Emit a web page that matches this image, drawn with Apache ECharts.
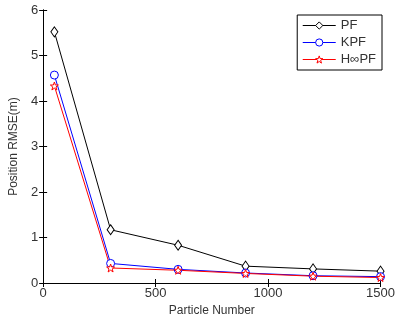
<!DOCTYPE html>
<html>
<head>
<meta charset="utf-8">
<script src="https://cdn.jsdelivr.net/npm/echarts@6/dist/echarts.min.js"></script>
<style>html,body{margin:0;padding:0;background:#fff;}#c{width:398px;height:322px;}</style>
</head>
<body>
<div id="c"></div>
<script>
const particles = [50, 300, 600, 900, 1200, 1500];
const pf = [5.52, 1.17, 0.83, 0.37, 0.31, 0.26];
const kpf = [4.57, 0.43, 0.30, 0.22, 0.16, 0.14];
const hpf = [4.33, 0.33, 0.28, 0.21, 0.15, 0.12];
const seriesNames = ['PF', 'KPF', 'H\u221EPF'];

const starPath = 'path://M0,-10 L2.35,-3.24 9.51,-3.09 3.8,1.24 5.88,8.09 0,4 -5.88,8.09 -3.8,1.24 -9.51,-3.09 -2.35,-3.24Z';
const font = 'Liberation Sans, Arial, sans-serif';
const chart = echarts.init(document.getElementById('c'));
function mk(vals){ return particles.map((x,i)=>[x, vals[i]]); }
const axisCommon = {
  axisLine:{show:true, lineStyle:{color:'#000', width:1}},
  axisTick:{show:true, inside:true, length:4, lineStyle:{color:'#000'}},
  splitLine:{show:false}
};
chart.setOption({
  animation:false,
  backgroundColor:'#fff',
  grid:{left:38, right:12, top:10, bottom:38},
  legend:{
    orient:'vertical', right:16, top:15,
    data:seriesNames,
    backgroundColor:'#fff',
    borderColor:'#000', borderWidth:1,
    padding:[4,6,4,5], itemGap:4,
    itemWidth:33, itemHeight:9,
    lineStyle:{width:1},
    itemStyle:{borderWidth:1},
    textStyle:{fontFamily:font, fontSize:13, color:'#333'}
  },
  xAxis:[
    Object.assign({type:'value', min:0, max:1500, interval:500, position:'bottom',
      name:'Particle Number', nameLocation:'middle', nameGap:22,
      nameTextStyle:{fontFamily:font, fontSize:12, color:'#333'},
      axisLabel:{fontFamily:font, fontSize:13, color:'#333', margin:4, formatter:v=>String(v)}}, axisCommon),
    Object.assign({type:'value', min:0, max:1500, interval:500, position:'top',
      axisLabel:{show:false}}, axisCommon)
  ],
  yAxis:[
    Object.assign({type:'value', min:0, max:6, interval:1, position:'left',
      name:'Position RMSE(m)', nameLocation:'middle', nameGap:23,
      nameTextStyle:{fontFamily:font, fontSize:12, color:'#333'},
      axisLabel:{fontFamily:font, fontSize:13, color:'#333', margin:5}}, axisCommon),
    Object.assign({type:'value', min:0, max:6, interval:1, position:'right',
      axisLabel:{show:false}}, axisCommon)
  ],
  series:[
    {name:seriesNames[0], type:'line', data:mk(pf), symbol:'diamond', symbolSize:[7,10],
      lineStyle:{color:'#000', width:1}, itemStyle:{color:'#fff', borderColor:'#000', borderWidth:1}},
    {name:seriesNames[1], type:'line', data:mk(kpf), symbol:'circle', symbolSize:8,
      lineStyle:{color:'#0000ff', width:1}, itemStyle:{color:'#fff', borderColor:'#0000ff', borderWidth:1}},
    {name:seriesNames[2], type:'line', data:mk(hpf), symbol:starPath, symbolSize:8,
      lineStyle:{color:'#ff0000', width:1}, itemStyle:{color:'#fff', borderColor:'#ff0000', borderWidth:1}}
  ]
});
</script>
</body>
</html>
